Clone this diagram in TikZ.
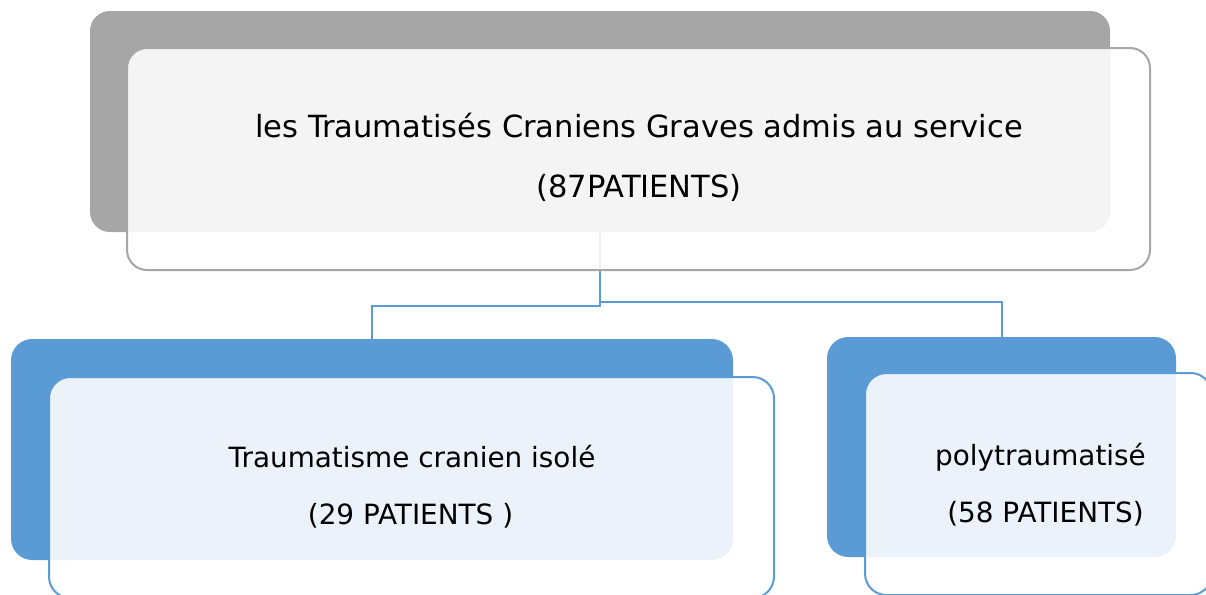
\documentclass[tikz,border=0pt]{standalone}
\usepackage{fontspec}
\setmainfont{DejaVu Sans}
\definecolor{grayback}{HTML}{A6A6A6}
\definecolor{blueback}{HTML}{5B9BD5}
\begin{document}
\begin{tikzpicture}[x=0.75pt,y=-0.75pt,
  box/.style={rectangle,rounded corners=15pt,inner sep=0pt,outer sep=0pt},
  backgray/.style={box,fill=grayback},
  backblue/.style={box,fill=blueback,rounded corners=16pt},
  frontgray/.style={box,fill=white,fill opacity=0.88,draw=grayback,line width=1.5pt},
  frontblue/.style={box,fill=white,fill opacity=0.88,draw=blueback,line width=1.5pt,rounded corners=16pt},
  conn/.style={draw=blueback,line width=1.5pt},
  bigtxt/.style={anchor=base,inner sep=0pt,font=\fontsize{22.9pt}{27pt}\selectfont},
  smalltxt/.style={anchor=base,inner sep=0pt,font=\fontsize{20.9pt}{25pt}\selectfont}]
\useasboundingbox (0,0) rectangle (1206,594);
\clip (0,0) rectangle (1206,594);
% back boxes
\node[backgray,minimum width=765pt,minimum height=165.75pt] (tb) at (600,121.5) {};
\node[backblue,minimum width=541.5pt,minimum height=165.75pt] (lb) at (372,449.5) {};
\node[backblue,minimum width=261.75pt,minimum height=165pt] (rb) at (1001.5,447) {};
% connectors
\draw[conn] (tb.south) -- ++(0,74) -| (lb.north);
\draw[conn] (tb.south) -- ++(0,70) -| (rb.north);
% front boxes
\node[frontgray,minimum width=767.25pt,minimum height=166.5pt] (tf) at (638.5,159) {};
\node[frontblue,minimum width=543.75pt,minimum height=165.75pt] (lf) at (411.5,487.5) {};
\node[frontblue,minimum width=260.25pt,minimum height=166.5pt] (rf) at (1038.5,484) {};
% texts
\node[bigtxt] (t1) at (639,137) {les Traumatisés Craniens Graves admis au service};
\node[bigtxt] (t2) at (639,197) {(87PATIENTS)};
\node[smalltxt] (l1) at (412,467) {Traumatisme cranien isolé};
\node[smalltxt] (l2) at (410.5,524) {(29 PATIENTS )};
\node[smalltxt] (r1) at (1040.5,465) {polytraumatisé};
\node[smalltxt] (r2) at (1045.5,522) {(58 PATIENTS)};
\end{tikzpicture}
\end{document}
